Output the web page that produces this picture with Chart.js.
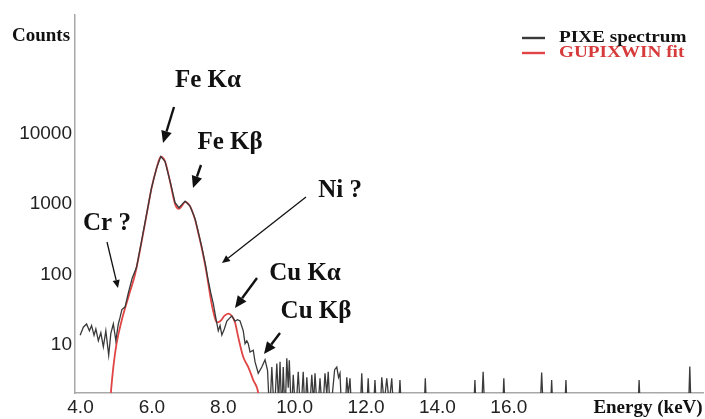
<!DOCTYPE html>
<html><head><meta charset="utf-8">
<script src="https://cdn.jsdelivr.net/npm/chart.js@4.4.1/dist/chart.umd.min.js"></script>
<style>html,body{margin:0;padding:0;background:#fff;} #wrap{width:705px;height:419px;position:relative;}</style>
</head><body><div id="wrap"><canvas id="c" width="705" height="419"></canvas></div>
<script>
// ---- data ----
const seriesNames = ['PIXE spectrum', 'GUPIXWIN fit'];
const pixeEnergy = [
 3.99,4.08,4.17,4.25,4.31,4.38,4.43,4.50,4.57,4.64,4.71,4.79,4.85,4.92,4.99,5.06,5.11,5.16,5.25,5.34,
 5.45,5.57,5.71,5.85,5.99,6.13,6.25,6.37,6.51,6.65,6.76,6.85,6.93,7.07,7.21,7.30,7.40,7.50,7.58,7.65,
 7.72,7.80,7.86,7.91,7.96,8.03,8.10,8.17,8.24,8.33,8.40,8.47,8.56,8.61,8.66,8.70,8.75,8.84,8.89,8.98,
 9.08,9.17,9.24,9.30,9.36,9.43,9.50,9.55,9.59,9.64,9.68,9.73,9.78,9.82,9.85,9.91,9.96,10.03,10.10,10.17,
 10.24,10.29,10.34,10.41,10.48,10.53,10.57,10.64,10.71,10.78,10.85,10.90,10.94,11.00,11.12,11.18,11.23,11.27,11.32,11.41,
 11.46,11.50,11.55,11.60,11.83,11.88,11.93,12.01,12.06,12.11,12.20,12.25,12.30,12.39,12.44,12.51,12.58,12.65,12.72,12.78,
 12.90,12.95,13.00,13.62,13.66,13.70,15.01,15.05,15.09,15.23,15.28,15.33,15.82,15.86,15.90,16.87,16.92,16.97,17.16,17.20,
 17.24,17.56,17.60,17.64,19.61,19.65,19.69,21.03,21.07,21.11
];
const pixeCounts = [
 13.8,18,20,16,19,13.8,17,11.6,15,9.5,16,7.2,14.7,20,11.6,20,25,32,35,55,
 90,127,300,716,1700,3240,4740,4030,2100,1050,890,1000,1100,940,620,400,243,140,82,55,
 39,23,16,19,14,17,22,24,26,22,23,22,16,10.5,11.5,10.5,8,8.5,5.8,4,
 4.9,6.2,4.4,1,4.9,1,5.5,1.5,5.8,1,4.9,1,6.5,2.5,6.1,1,3.8,1,4.2,1,
 4.2,1,3.5,1,3.8,1.5,4.0,1,3.4,1,4.0,2,4.2,1,4.5,4.9,3.5,4.0,1,1,
 3.5,2,3.4,1,1,4.0,1,1,3.4,1,1,3.2,1,1,3.5,1.5,3.4,1.5,3.4,1,
 1,3.2,1,1,3.4,1,1,3.2,1,1,4.2,1,1,3.4,1,1,4.1,1,1,3.2,
 1,1,3.2,1,1,3.2,1,1,5.0,1
];
const fitEnergy = [
 4.80,4.85,4.92,5.01,5.15,5.34,5.53,5.71,5.85,5.99,6.13,6.25,6.37,6.51,6.65,6.76,6.85,6.93,7.07,7.21,
 7.30,7.40,7.50,7.58,7.65,7.72,7.82,7.92,8.03,8.14,8.24,8.33,8.42,8.56,8.70,8.84,8.98,9.05
];
const fitCounts = [
 1,2.1,4.9,10.5,22,48,102,290,700,1680,3200,4700,4000,2080,1000,860,960,1080,930,600,
 390,235,130,75,45,30,21,22,26,28,26,21,13,6.8,4.9,3.2,2.1,1
];
const xTicks = [4, 6, 8, 10, 12, 14, 16];
const yTicks = [10, 100, 1000, 10000];
const xTitle = 'Energy (keV)';
const yTitle = 'Counts';
const peakLabels = ['Fe Kα', 'Fe Kβ', 'Ni ?', 'Cr ?', 'Cu Kα', 'Cu Kβ'];

// ---- layout / styling ----
const serif = '"Liberation Serif", "Times New Roman", serif';
const sans = '"Liberation Sans", Arial, sans-serif';
const labelPos = [[208,81],[230,143],[340,191],[107,224],[305,274],[316,312]];
const arrows = [
 {f:[174,107], t:[163,143], w:2.4, h:12},
 {f:[201,165], t:[193,188], w:2.4, h:12},
 {f:[306,197], t:[222,263], w:1.3, h:8},
 {f:[107,242], t:[118,288], w:1.3, h:8},
 {f:[257,278], t:[235,308], w:2.4, h:12},
 {f:[280,333], t:[264,354], w:2.4, h:12}
];

function drawArrow(ctx, a) {
  const [x1,y1] = a.f, [x2,y2] = a.t;
  const ang = Math.atan2(y2-y1, x2-x1);
  const bx = x2 - a.h*Math.cos(ang), by = y2 - a.h*Math.sin(ang);
  ctx.strokeStyle = '#111'; ctx.fillStyle = '#111'; ctx.lineWidth = a.w;
  ctx.beginPath(); ctx.moveTo(x1,y1); ctx.lineTo(bx,by); ctx.stroke();
  const hw = a.h*0.45;
  ctx.beginPath();
  ctx.moveTo(x2,y2);
  ctx.lineTo(bx + hw*Math.sin(ang), by - hw*Math.cos(ang));
  ctx.lineTo(bx - hw*Math.sin(ang), by + hw*Math.cos(ang));
  ctx.closePath(); ctx.fill();
}

const overlay = {
  id: 'overlay',
  afterDraw(chart) {
    const ctx = chart.ctx;
    ctx.save();
    ctx.textBaseline = 'middle';
    ctx.textAlign = 'center';
    ctx.fillStyle = '#111';
    ctx.font = 'bold 19px ' + serif;
    ctx.fillText(yTitle, 41, 36);
    ctx.fillText(xTitle, 648, 408);
    ctx.font = 'bold 25px ' + serif;
    peakLabels.forEach((t,i) => ctx.fillText(t, labelPos[i][0], labelPos[i][1]));
    arrows.forEach(a => drawArrow(ctx, a));
    // legend
    const ds = chart.data.datasets;
    const rows = [38, 53];
    ctx.textAlign = 'left';
    ctx.font = 'bold 16px ' + serif;
    ds.forEach((d,i) => {
      ctx.strokeStyle = d.borderColor; ctx.lineWidth = 2.4;
      ctx.beginPath(); ctx.moveTo(522, rows[i]); ctx.lineTo(545, rows[i]); ctx.stroke();
      ctx.fillStyle = i === 0 ? '#111' : '#d63a3a';
      ctx.save();
      ctx.translate(559, rows[i]);
      ctx.scale(1.2, 1);
      ctx.fillText(d.label, 0, 0);
      ctx.restore();
    });
    ctx.restore();
  }
};

const toPts = (xs, ys) => xs.map((x,i) => ({x, y: ys[i]}));

new Chart(document.getElementById('c'), {
  type: 'line',
  data: {
    datasets: [
      { label: seriesNames[0], data: toPts(pixeEnergy, pixeCounts), borderColor: '#3a3a3a',
        borderWidth: 1.3, pointRadius: 0, tension: 0, fill: false },
      { label: seriesNames[1], data: toPts(fitEnergy, fitCounts), borderColor: '#e04444',
        borderWidth: 1.8, pointRadius: 0, cubicInterpolationMode: 'monotone', fill: false }
    ]
  },
  options: {
    responsive: false, animation: false, devicePixelRatio: 1,
    layout: { padding: { top: 12, right: 2, left: 0, bottom: 0 } },
    plugins: { legend: { display: false }, tooltip: { enabled: false } },
    scales: {
      x: {
        type: 'linear', min: 3.846, max: 21.44,
        grid: { display: false, drawTicks: false },
        border: { display: true, color: '#a8a8a8', width: 1.5 },
        afterBuildTicks: s => { s.ticks = xTicks.map(v => ({value: v})); },
        afterFit: s => { s.height = 26; },
        ticks: { padding: 3, maxRotation: 0, autoSkip: false, color: '#222',
                 font: { family: sans, size: 19 }, callback: v => v.toFixed(1) }
      },
      y: {
        type: 'logarithmic', min: 2.1, max: 490000,
        grid: { display: false, drawTicks: false },
        border: { display: true, color: '#a8a8a8', width: 1.5 },
        afterBuildTicks: s => { s.ticks = yTicks.map(v => ({value: v})); },
        afterFit: s => { s.width = 75; },
        ticks: { padding: 3, autoSkip: false, color: '#222',
                 font: { family: sans, size: 19 }, callback: v => String(v) }
      }
    }
  },
  plugins: [overlay]
});
</script></body></html>
